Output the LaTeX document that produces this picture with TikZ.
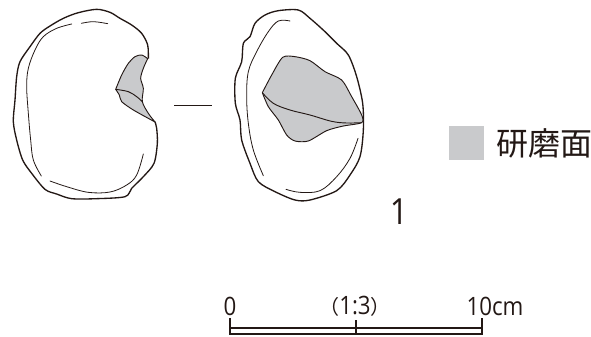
\documentclass[tikz,border=0pt]{standalone}
\usepackage{fontspec}
\setmainfont{Open Sans}[FakeStretch=0.88]
\newfontfamily\cjk{Noto Sans CJK JP}
\definecolor{facegray}{HTML}{C9CACC}
\definecolor{inkc}{HTML}{231815}
\tikzset{
  outer/.style={draw=inkc,line width=1pt,line join=round},
  inner/.style={draw=inkc,line width=0.6pt,line cap=round},
  face/.style={fill=facegray,draw=inkc,line width=0.7pt,line join=round},
  facel/.style={draw=inkc,line width=0.7pt},
  label/.style={inner sep=0pt,text=inkc},
  barline/.style={draw=inkc,line width=0.9pt},
  dashline/.style={draw=inkc,line width=0.75pt}
}
\begin{document}
\begin{tikzpicture}[x=0.75pt,y=-0.75pt]
\useasboundingbox (0,0) rectangle (591,336);
% left view (coordinates in 3x zoom units)
\begin{scope}[x=0.25pt,y=-0.25pt]
\draw[outer] plot[smooth,tension=0.5] coordinates {(445,176) (443,135) (425,100) (395,75) (360,55) (330,37) (290,28) (235,38) (190,55) (150,78) (120,100) (90,140) (60,185) (50,230) (45,300) (40,365) (50,420) (68,480) (95,520) (135,568) (170,582) (215,596) (290,596) (375,590) (395,565) (430,530) (462,490) (472,430) (470,385) (465,365)};
\draw[inner] plot[smooth,tension=0.6] coordinates {(215,72) (170,85) (130,110) (105,150) (85,205) (80,260) (85,340) (92,420) (100,480) (124,528)};
\draw[inner] plot[smooth,tension=0.6] coordinates {(244,70) (280,65) (323,71)};
\draw[inner] plot[smooth,tension=0.6] coordinates {(150,543) (200,560) (265,577) (330,576) (380,555) (410,525) (430,462)};
\filldraw[face] plot[smooth,tension=0.5] coordinates {(347,268) (365,225) (385,190) (405,170) (425,165) (443,176)} -- plot[smooth,tension=0.5] coordinates {(443,176) (430,205) (422,235) (430,265) (427,305) (445,340) (465,366)} -- plot[smooth,tension=0.4] coordinates {(465,366) (400,330) (365,305) (358,285) (347,268)} -- cycle;
\draw[facel] plot[smooth,tension=0.6] coordinates {(347,268) (385,275) (410,290) (427,305)};
\end{scope}
% right view
\begin{scope}[xshift=150pt,x=0.25pt,y=-0.25pt]
\draw[outer] plot[smooth cycle,tension=0.5] coordinates {(295,30) (330,55) (375,95) (410,130) (445,165) (470,230) (488,310) (490,390) (480,470) (450,525) (410,572) (330,600) (285,600) (225,575) (175,545) (150,490) (125,420) (120,360) (106,310) (106,235) (125,185) (130,130) (150,110) (165,70) (195,45) (235,32)};
\draw[inner] plot[smooth,tension=0.6] coordinates {(270,63) (235,63) (205,95) (170,155) (145,215) (140,290) (145,370) (160,450) (190,527)};
\draw[inner] plot[smooth,tension=0.6] coordinates {(258,568) (300,577) (360,572) (410,530) (450,475) (474,415)};
\filldraw[face] plot[smooth,tension=0.45] coordinates {(187,278) (215,225) (248,172) (285,170) (330,182) (375,215) (425,240) (455,290) (485,345) (485,368) (430,378) (380,392) (325,423) (285,423) (260,405) (235,360) (205,320) (187,278)};
\draw[facel] plot[smooth,tension=0.6] coordinates {(187,278) (220,310) (270,330) (330,345) (395,364) (440,369) (485,368)};
\end{scope}
% dash between views
\coordinate (dashL) at (174,105);
\coordinate (dashR) at (212,105);
\draw[dashline] (dashL) -- (dashR);
% figure number
\node[label,font=\fontsize{27}{27}\selectfont] (num) at (399,212) {1};
% legend
\node[fill=facegray,minimum width=26.25pt,minimum height=25.5pt,inner sep=0pt] (swatch) at (466.5,143) {};
\node[label,anchor=west,font=\cjk\fontsize{24}{24}\selectfont] (legend) at (496,143) {研磨面};
% scale
\coordinate (a0) at (230,318);
\coordinate (a1) at (230,334);
\coordinate (b0) at (356,320);
\coordinate (b1) at (356,334);
\coordinate (c0) at (482,318);
\coordinate (c1) at (482,334);
\draw[barline] (a0) -- (a1) -- (c1) -- (c0);
\draw[barline] (230,328) -- (482,328);
\draw[barline] (b0) -- (b1);
\node[label,font=\fontsize{19}{19}\selectfont] (s0) at (230,306) {0};
\node[label,font=\fontsize{19}{19}\selectfont] (s1) at (355,306) {{\cjk\fontsize{15}{15}\selectfont （}1:3{\cjk\fontsize{15}{15}\selectfont ）}};
\node[label,font=\fontsize{19}{19}\selectfont] (s2) at (495,306) {10cm};
\end{tikzpicture}
\end{document}
